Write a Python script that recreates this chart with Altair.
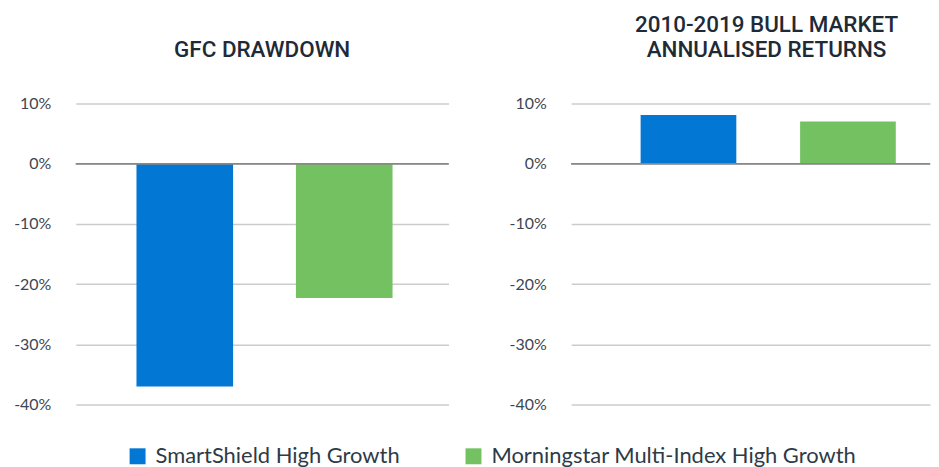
import altair as alt
import pandas as pd

series = ["SmartShield High Growth", "Morningstar Multi-Index High Growth"]
colors = ["#0277d4", "#74c162"]
gfc_drawdown = [-37.0, -22.3]
bull_returns = [8.1, 7.0]
y_ticks = [10, 0, -10, -20, -30, -40]

df_gfc = pd.DataFrame({"series": series, "value": gfc_drawdown})
df_bull = pd.DataFrame({"series": series, "value": bull_returns})

FONT = "Roboto"

def panel(df, title, width, pi, po, align, dx):
    x = alt.X("series:N", sort=series, axis=None,
              scale=alt.Scale(paddingInner=pi, paddingOuter=po, align=align))
    y = alt.Y("value:Q", title=None,
              scale=alt.Scale(domain=[-40, 10], nice=False, zero=False),
              axis=alt.Axis(values=y_ticks, labelExpr="datum.value + '%'",
                            ticks=False, domain=False, labelPadding=25,
                            labelFontSize=16, labelColor="#3d4650", labelFont="Lato",
                            labelFontWeight=400,
                            gridColor="#cccccc", gridWidth=1.5))
    bars = alt.Chart(df).mark_bar().encode(
        x=x, y=y,
        color=alt.Color("series:N", sort=series,
                        scale=alt.Scale(domain=series, range=colors),
                        legend=alt.Legend(title=None, orient="none", direction="horizontal",
                                          legendX=51, legendY=343,
                                          symbolType="square", symbolSize=256,
                                          symbolStrokeWidth=0,
                                          labelFontSize=22, labelFont="Lato",
                                          labelFontWeight=400, labelColor="#2e3a46",
                                          labelOffset=7, columnPadding=62,
                                          labelLimit=500)),
    )
    zero = alt.Chart(df).mark_rule(color="#888888", strokeWidth=1.5).encode(y=alt.datum(0))
    return alt.layer(bars, zero).properties(
        width=width, height=302,
        title=alt.TitleParams(title, anchor="middle", fontSize=22.5, font=FONT,
                              fontWeight=500, color="#1e2b37", lineHeight=25,
                              offset=34, dx=dx),
    )

left = panel(df_gfc, ["", "GFC DRAWDOWN"], 374, 0.394, 0.366, 0.52, 0)
right = panel(df_bull, ["2010-2019 BULL MARKET", "ANNUALISED RETURNS"], 360, 0.4, 0.325, 0.67, 16)

chart = alt.hconcat(left, right, spacing=59).properties(
    padding={"left": 5, "top": 5, "right": 0, "bottom": 0}
).configure_view(stroke=None)

chart.save("out.html", embed_options={"renderer": "svg", "actions": False})
